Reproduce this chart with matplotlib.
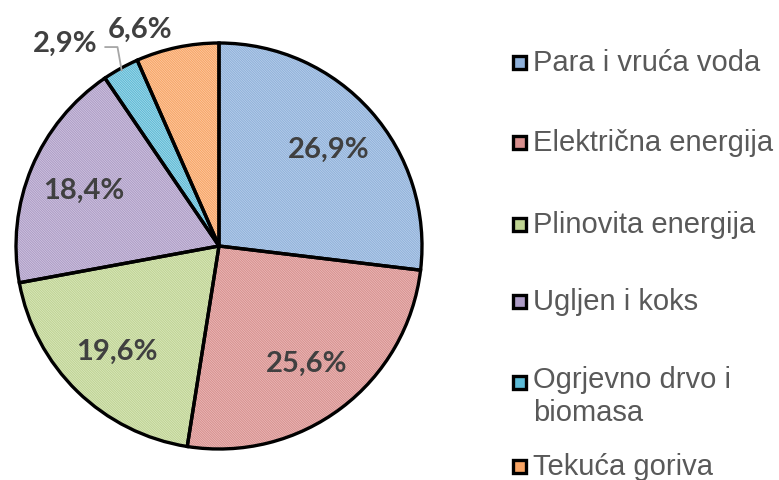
import matplotlib.pyplot as plt
from matplotlib.patches import Rectangle
import numpy as np

plt.rcParams['hatch.linewidth'] = 0.8

categories = ['Para i vruća voda', 'Električna energija', 'Plinovita energija',
              'Ugljen i koks', 'Ogrjevno drvo i\nbiomasa', 'Tekuća goriva']
shares = [26.9, 25.6, 19.6, 18.4, 2.9, 6.6]
labels = ['26,9%', '25,6%', '19,6%', '18,4%', '2,9%', '6,6%']

fills = ['#C6D8EF', '#EFC8C7', '#E1EBCB', '#DAD2E7', '#BCE2EE', '#FCD6B8']
lines = ['#8FB1DA', '#D8908E', '#BFD492', '#AD9CC6', '#5CBAD6', '#F8A464']

fig = plt.figure(figsize=(7.79, 4.81), dpi=100)
W, H = 779, 481
cx, cy, R = 219, 247, 203
half = 1.25 * R
ax = fig.add_axes([(cx - half) / W, (H - cy - half) / H, 2 * half / W, 2 * half / H])
ax.set_xlim(-1.25, 1.25)
ax.set_ylim(-1.25, 1.25)
ax.axis('off')

# hatched fill first, then black outlines on top
wedges, _ = ax.pie(shares, startangle=90, counterclock=False, radius=1,
                   colors=fills, wedgeprops=dict(linewidth=0))
for w, c in zip(wedges, lines):
    w.set_hatch('\\' * 14)
    w.set_edgecolor(c)
ax.pie(shares, startangle=90, counterclock=False, radius=1,
       colors=['none'] * len(shares),
       wedgeprops=dict(linewidth=2.4, edgecolor='black', fill=False))

lab_font = dict(family='Lato', weight='bold', size=21, color='#404040',
                ha='center', va='center')
for i, w in enumerate(wedges):
    mid = np.deg2rad((w.theta1 + w.theta2) / 2)
    if i < 4:
        r = 0.72
        ax.text(r * np.cos(mid), r * np.sin(mid), labels[i], **lab_font)

# small slices: labels outside
tx, ty = -0.76, 1.0
ax.text(tx, ty, labels[4], **lab_font)
m4 = np.deg2rad((wedges[4].theta1 + wedges[4].theta2) / 2)
ax.plot([tx + 0.2, tx + 0.26, np.cos(m4) * 0.99], [ty - 0.02, ty - 0.02, np.sin(m4) * 0.99],
        color='#A6A6A6', lw=1.3)
ax.text(-0.39, 1.07, labels[5], **lab_font)

# legend drawn by hand
leg_y = [63, 143, 225, 302, 383, 467]
for name, c, l, y in zip(categories, fills, lines, leg_y):
    fig.patches.append(Rectangle((513 / W, (H - y - 6.5) / H), 13 / W, 13 / H,
                                 transform=fig.transFigure, facecolor=l,
                                 edgecolor='black', linewidth=2.4))
    if '\n' in name:
        fig.text(533 / W, (H - y + 17) / H, name, family='Liberation Sans', size=21,
                 color='#595959', ha='left', va='top', linespacing=1.25)
    else:
        fig.text(533 / W, (H - y) / H, name, family='Liberation Sans', size=21,
                 color='#595959', ha='left', va='center')

fig.savefig('out.png', dpi=100)
